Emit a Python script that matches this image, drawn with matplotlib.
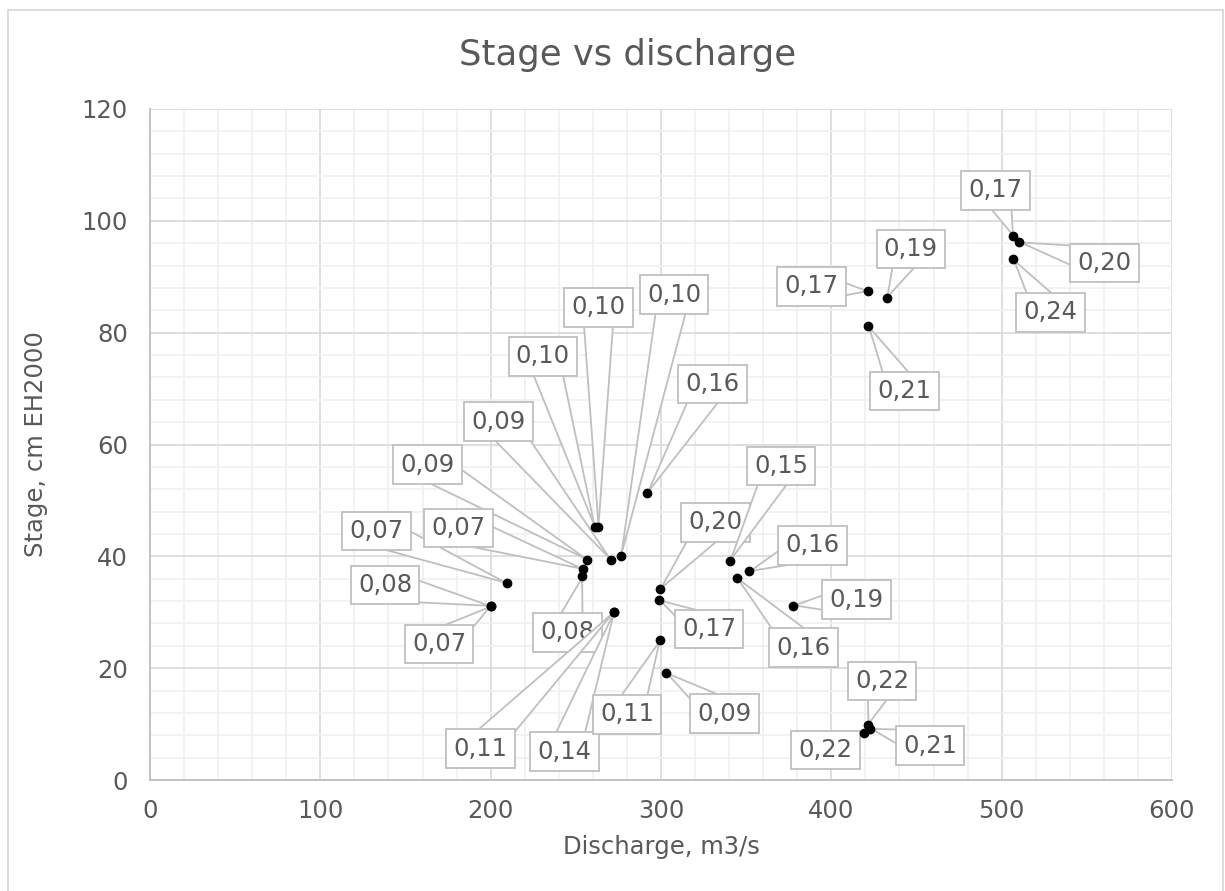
import matplotlib
matplotlib.use("Agg")
import matplotlib.pyplot as plt
from matplotlib.patches import Rectangle
from matplotlib.ticker import MultipleLocator

# ── Data ──────────────────────────────────────────────────────────────────────

discharge = [506.9, 510.3, 506.9, 421.8, 432.6, 421.8,
             261.2, 263.3, 276.6, 292.0, 270.5, 256.8,
             209.5, 254.5, 253.9, 200.2, 200.2, 272.6,
             272.6, 299.5, 298.9, 299.5, 303.0, 340.6,
             351.9, 344.5, 377.7, 421.6, 418.9, 422.8]
stage = [97.2, 96.2, 93.1, 87.4, 86.2, 81.2,
         45.2, 45.2, 40.1, 51.3, 39.4, 39.4,
         35.2, 37.7, 36.4, 31.1, 31.1, 30.1,
         30.1, 34.1, 32.2, 25.0, 19.2, 39.2,
         37.3, 36.2, 31.2, 9.8, 8.4, 9.2]
point_labels = ["0,17", "0,20", "0,24", "0,17", "0,19", "0,21",
                "0,10", "0,10", "0,10", "0,16", "0,09", "0,09",
                "0,07", "0,07", "0,08", "0,08", "0,07", "0,11",
                "0,14", "0,20", "0,17", "0,11", "0,09", "0,15",
                "0,16", "0,16", "0,19", "0,22", "0,22", "0,21"]

# callout placement (pixels from each point)
label_offsets = [(-18, 46), (85, -21), (37, -53), (-57, 5), (24, 49), (36, -65),
                 (-52, 171), (0, 220), (53, 261), (65, 109), (-112, 138), (-160, 95),
                 (-130, 52), (-125, 41), (-15, -56), (-106, 21), (-52, -38), (-134, -137),
                 (-50, -140), (55, 67), (50, -29), (-33, -74), (58, -41), (51, 95),
                 (63, 26), (67, -70), (63, 6), (14, 44), (-38, -17), (60, -17)]

TEXT = "#595959"
EDGE = "#bfbfbf"

# ── Figure ────────────────────────────────────────────────────────────────────

fig = plt.figure(figsize=(12.25, 8.91), dpi=100)
ax = fig.add_axes([150 / 1225, 111 / 891, 1022 / 1225, 671 / 891])

ax.set_xlim(0, 600)
ax.set_ylim(0, 120)
ax.xaxis.set_major_locator(MultipleLocator(100))
ax.xaxis.set_minor_locator(MultipleLocator(20))
ax.yaxis.set_major_locator(MultipleLocator(20))
ax.yaxis.set_minor_locator(MultipleLocator(4))
ax.grid(which="major", color="#d9d9d9", lw=1.2)
ax.grid(which="minor", color="#f0f0f0", lw=1.2)
ax.set_axisbelow(True)
ax.tick_params(which="both", length=0, labelsize=17.5, labelcolor=TEXT)
ax.tick_params(axis="x", pad=14)
ax.tick_params(axis="y", pad=16)

for side in ["top", "right"]:
    ax.spines[side].set_visible(False)
for side in ["left", "bottom"]:
    ax.spines[side].set_color(EDGE)
    ax.spines[side].set_linewidth(1.3)

ax.scatter(discharge, stage, s=36, color="black", zorder=5, clip_on=False)

for x, y, lab, (dx, dy) in zip(discharge, stage, point_labels, label_offsets):
    ax.annotate(lab, xy=(x, y), xytext=(dx, dy), textcoords="offset pixels",
                ha="center", va="center", fontsize=17.5, color=TEXT, zorder=4,
                bbox=dict(boxstyle="square,pad=0.3", fc="white", ec=EDGE, lw=1.3),
                arrowprops=dict(arrowstyle="wedge,tail_width=1.3,shrink_factor=0.5",
                                fc="white", ec=EDGE, lw=1.3, patchA=None,
                                shrinkA=0, shrinkB=1))

ax.set_xlabel("Discharge, m3/s", fontsize=17.5, color=TEXT, labelpad=8)
ax.set_ylabel("Stage, cm EH2000", fontsize=17.5, color=TEXT, labelpad=24)

fig.text(628 / 1225, 1 - 55 / 891, "Stage vs discharge", fontsize=25.5,
         color=TEXT, ha="center", va="center")

# chart area frame
fig.patches.append(Rectangle((8 / 1225, -0.01), 1215 / 1225, 1 - 10 / 891 + 0.01,
                             transform=fig.transFigure, fill=False,
                             ec="#d9d9d9", lw=1.3))

fig.savefig("out.png", dpi=100)
